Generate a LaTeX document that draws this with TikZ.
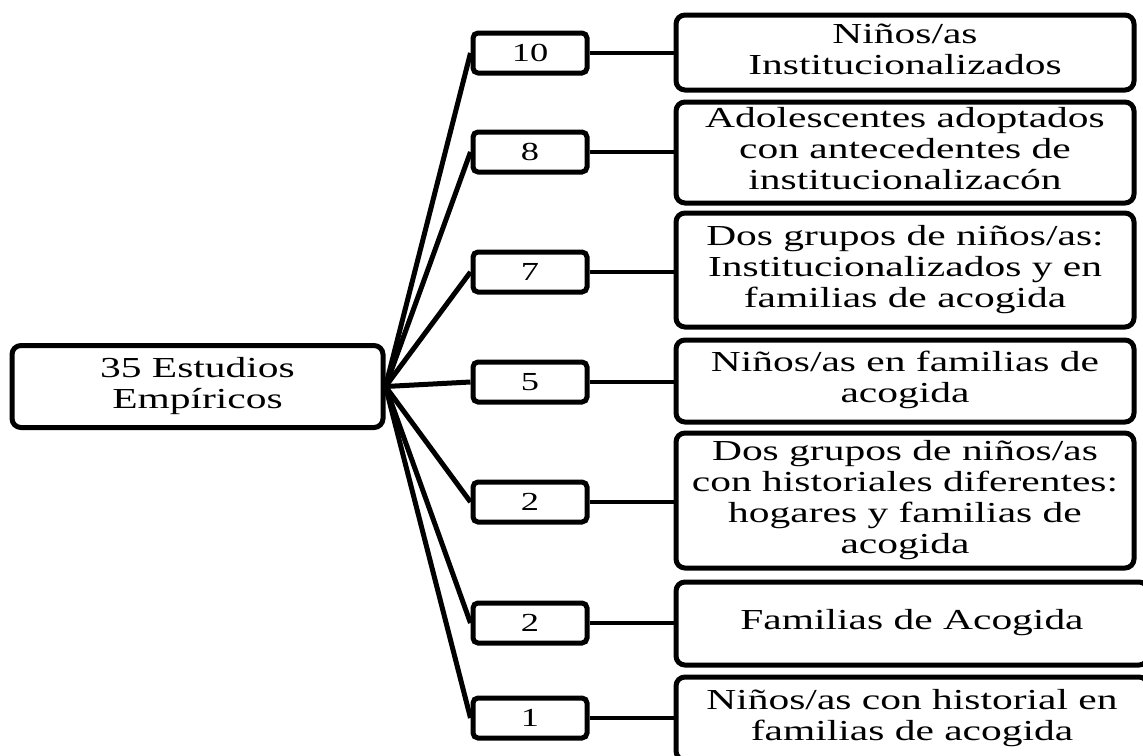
\documentclass[tikz,border=0pt]{standalone}
\usepackage{fontspec}
\usepackage{graphicx}
\setmainfont{Liberation Serif}
\newcommand\boxtxt[1]{\scalebox{1.43}[1]{\begin{tabular}{@{}c@{}}#1\end{tabular}}}
\newcommand\numtxt[1]{\scalebox{1.4}[1]{#1}}
\tikzset{
  bigbox/.style={draw=black, line width=5pt, rounded corners=9pt, inner sep=0pt,
    font=\fontsize{29}{31}\selectfont},
  numbox/.style={draw=black, line width=5pt, rounded corners=5pt, inner sep=0pt,
    minimum width=114pt, minimum height=40pt, font=\fontsize{26}{28}\selectfont},
  fanline/.style={line width=5pt},
  linkline/.style={line width=3.5pt},
}
\begin{document}
\begin{tikzpicture}[x=1pt,y=-1pt]
\useasboundingbox (0,0) rectangle (1143,755);
\fill[white] (0,0) rectangle (1143,755);
% root
\node[bigbox, minimum width=371pt, minimum height=82pt] (root) at (197.5,386.5)
  {\boxtxt{35 Estudios\\Empíricos}};
% count boxes
\node[numbox] (n1) at (530,53)  {\numtxt{10}};
\node[numbox] (n2) at (530,152) {\numtxt{8}};
\node[numbox] (n3) at (530,272) {\numtxt{7}};
\node[numbox] (n4) at (530,382) {\numtxt{5}};
\node[numbox] (n5) at (530,502) {\numtxt{2}};
\node[numbox] (n6) at (530,623) {\numtxt{2}};
\node[numbox] (n7) at (530,718) {\numtxt{1}};
% description boxes
\node[bigbox, minimum width=458pt, minimum height=75pt] (r1) at (905,52.5)
  {\boxtxt{Niños/as\\Institucionalizados}};
\node[bigbox, minimum width=458pt, minimum height=101pt] (r2) at (905,152.5)
  {\boxtxt{Adolescentes adoptados\\con antecedentes de\\institucionalizacón}};
\node[bigbox, minimum width=458pt, minimum height=114pt] (r3) at (905,270)
  {\boxtxt{Dos grupos de niños/as:\\Institucionalizados y en\\familias de acogida}};
\node[bigbox, minimum width=458pt, minimum height=82pt] (r4) at (905,381)
  {\boxtxt{Niños/as en familias de\\acogida}};
\node[bigbox, minimum width=458pt, minimum height=135pt] (r5) at (905,500.5)
  {\boxtxt{Dos grupos de niños/as\\con historiales diferentes:\\hogares y familias de\\acogida}};
\node[bigbox, minimum width=472pt, minimum height=83pt] (r6) at (912,623.5)
  {\boxtxt{Familias de Acogida}};
\node[bigbox, minimum width=472pt, minimum height=83pt] (r7) at (912,718.5)
  {\boxtxt{Niños/as con historial en\\familias de acogida}};
% fan connectors
\foreach \i in {1,...,7} {
  \draw[fanline] (root.east) -- (n\i.west);
  \draw[linkline] (n\i.east) -- (n\i.east -| r\i.west);
}
\end{tikzpicture}
\end{document}
